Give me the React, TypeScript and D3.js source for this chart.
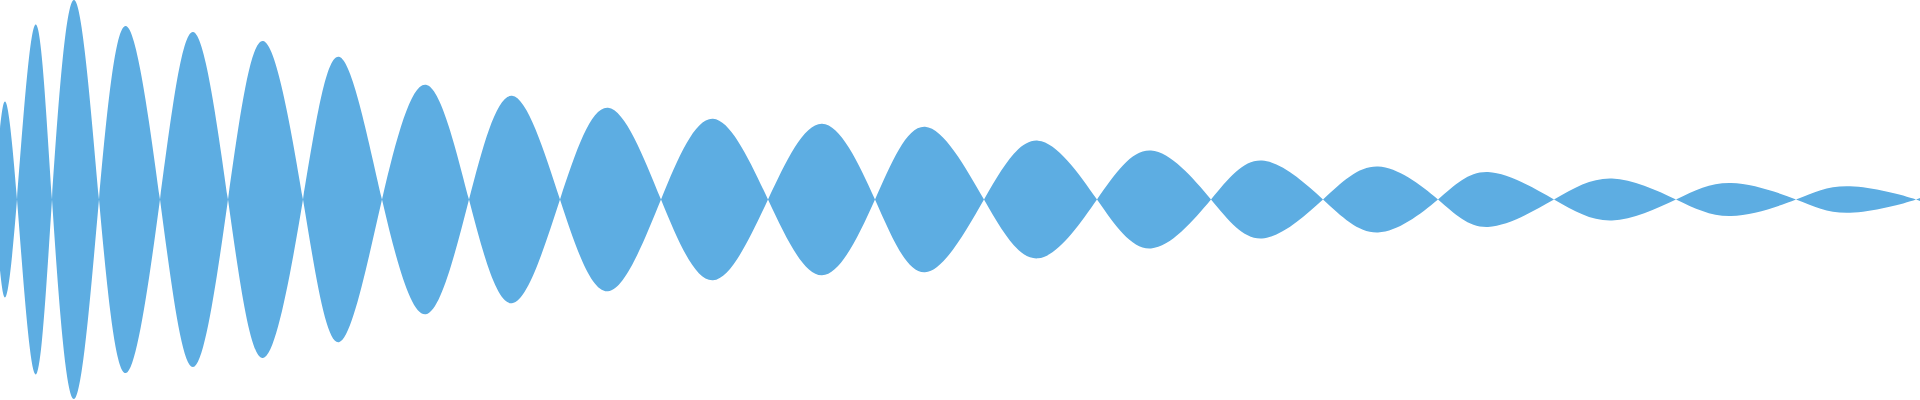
import React, { useEffect, useRef } from "react";
import * as d3 from "d3";

// sample positions along the wave (px along the track) and signed amplitudes
const positions = [
  0, 6, 17, 35, 52, 74, 99, 126, 160, 193, 228, 263, 303, 339, 382, 426, 469,
  512, 560, 608, 661, 713, 768, 822, 875, 925, 984, 1038, 1097, 1151, 1211,
  1262, 1323, 1378, 1438, 1488, 1554, 1612, 1676, 1731, 1796, 1850, 1916, 1920
];
const amplitudes = [
  71, 97, 0, -175, 0, 200, 0, -174, 0, 168, 0, -159, 0, 143, 0, -115, 0, 104,
  0, -92, 0, 81, 0, -76, 0, 73, 0, -59, 0, 49, 0, -39, 0, 33, 0, -27.5, 0, 21,
  0, -16.5, 0, 13.3, 0, -7
];

interface IPoint {
  t: number;
  v: number;
}

const width = 1920;
const height = 400;

const Wave: React.FC = () => {
  const svgRef = useRef(null);
  const pathRef = useRef(null);

  useEffect(() => {
    const data: IPoint[] = positions.map((t, i) => ({ t, v: amplitudes[i] }));

    const x = d3.scaleLinear().domain([0, 1920]).range([0, width]);
    const y = d3.scaleLinear().domain([-200, 200]).range([399, 0]);

    // mirrored area: top follows v, bottom follows -v, so they cross at zero
    const area = d3
      .area<IPoint>()
      .curve(d3.curveNatural)
      .x(d => x(d.t))
      .y0(d => y(-d.v))
      .y1(d => y(d.v));

    d3.select(svgRef.current)
      .attr("width", width)
      .attr("height", height);

    d3.select(pathRef.current)
      .datum(data)
      .attr("fill", "#5dade2")
      .attr("stroke", "none")
      .attr("d", area as any);
  }, []);

  return (
    <svg
      ref={svgRef}
      viewBox={`0 0 ${width} ${height}`}
      style={{ position: "absolute", left: 0, top: 0, display: "block" }}
    >
      <path ref={pathRef} />
    </svg>
  );
};

export default function App() {
  return <Wave />;
}
